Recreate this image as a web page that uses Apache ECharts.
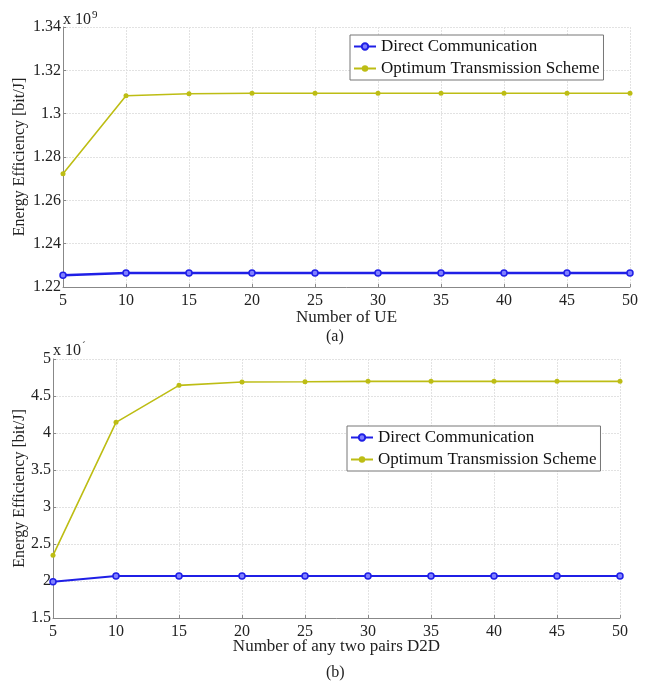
<!DOCTYPE html>
<html>
<head>
<meta charset="utf-8">
<script src="https://cdn.jsdelivr.net/npm/echarts@6/dist/echarts.min.js"></script>
<style>
  html, body { margin: 0; padding: 0; background: #fff; }
  #main { width: 649px; height: 684px; }
</style>
</head>
<body>
<div id="main"></div>
<script>
// x values shared by both panels
var xValues = [5, 10, 15, 20, 25, 30, 35, 40, 45, 50];

// panel (a), values in units of 10^9 bit/J
var directA = [1.2254, 1.2265, 1.2265, 1.2265, 1.2265, 1.2265, 1.2265, 1.2265, 1.2265, 1.2265];
var optimumA = [1.2723, 1.3083, 1.3092, 1.3094, 1.3094, 1.3094, 1.3094, 1.3094, 1.3094, 1.3094];

// panel (b)
var directB = [1.991, 2.068, 2.068, 2.068, 2.068, 2.068, 2.068, 2.068, 2.068, 2.068];
var optimumB = [2.347, 4.144, 4.644, 4.689, 4.693, 4.698, 4.698, 4.698, 4.698, 4.698];

var seriesNames = ['Direct Communication', 'Optimum Transmission Scheme'];

var FONT = '"Liberation Serif", "DejaVu Serif", serif';
var BLUE = '#1f1fe6';
var OLIVE = '#bdbd14';

function pairs(ys) {
    var out = [];
    for (var i = 0; i < xValues.length; i++) {
        out.push([xValues[i], ys[i]]);
    }
    return out;
}

function xAxisFor(gridIndex, name, gap) {
    return {
        type: 'value',
        gridIndex: gridIndex,
        min: 5,
        max: 50,
        interval: 5,
        name: name,
        nameLocation: 'middle',
        nameGap: gap,
        nameMoveOverlap: false,
        nameTextStyle: { fontFamily: FONT, fontSize: 17, color: '#222' },
        axisLine: { lineStyle: { color: '#888' } },
        axisTick: { inside: true, length: 3, lineStyle: { color: '#888' } },
        axisLabel: { fontFamily: FONT, fontSize: 16, color: '#222', margin: 6 },
        splitLine: { show: true, lineStyle: { color: '#e2e2e2', type: [2, 1] } }
    };
}

function yAxisFor(gridIndex, min, max, interval, digits, gap) {
    return {
        type: 'value',
        gridIndex: gridIndex,
        min: min,
        max: max,
        interval: interval,
        name: 'Energy Efficiency [bit/J]',
        nameLocation: 'middle',
        nameGap: gap,
        nameMoveOverlap: false,
        nameTextStyle: { fontFamily: FONT, fontSize: 16, color: '#222' },
        axisLine: { show: true, lineStyle: { color: '#888' } },
        axisTick: { show: true, inside: true, length: 3, lineStyle: { color: '#888' } },
        axisLabel: {
            fontFamily: FONT, fontSize: 16, color: '#222', margin: 2,
            formatter: function (v) { return String(parseFloat(v.toFixed(digits))); }
        },
        splitLine: { show: true, lineStyle: { color: '#e2e2e2', type: [2, 1] } }
    };
}

function directSeries(idx, data, width) {
    return {
        name: seriesNames[0],
        type: 'line',
        xAxisIndex: idx,
        yAxisIndex: idx,
        data: pairs(data),
        symbol: 'circle',
        symbolSize: 6,
        lineStyle: { color: BLUE, width: width },
        itemStyle: { color: '#8080ff', borderColor: BLUE, borderWidth: 1.5 },
        animation: false
    };
}

function optimumSeries(idx, data) {
    return {
        name: seriesNames[1],
        type: 'line',
        xAxisIndex: idx,
        yAxisIndex: idx,
        data: pairs(data),
        symbol: 'circle',
        symbolSize: 5,
        lineStyle: { color: OLIVE, width: 1.6 },
        itemStyle: { color: OLIVE },
        animation: false
    };
}

function legendAt(left, top) {
    return {
        data: seriesNames,
        orient: 'vertical',
        left: left,
        top: top,
        padding: [3, 4, 3, 3],
        itemGap: 5,
        itemWidth: 22,
        itemHeight: 8,
        backgroundColor: '#fff',
        borderColor: '#777',
        borderWidth: 1,
        textStyle: { fontFamily: FONT, fontSize: 17, color: '#111' }
    };
}

var myChart = echarts.init(document.getElementById('main'));

var option = {
    backgroundColor: '#fff',
    animation: false,
    grid: [
        { left: 63, right: 19, top: 27, height: 260 },
        { left: 53, right: 29, top: 359, height: 259 }
    ],
    xAxis: [xAxisFor(0, 'Number of UE', 22), xAxisFor(1, 'Number of any two pairs D2D', 20)],
    yAxis: [yAxisFor(0, 1.22, 1.34, 0.02, 2, 35), yAxisFor(1, 1.5, 5, 0.5, 1, 25)],
    legend: [legendAt(350, 35), legendAt(347, 426)],
    series: [
        directSeries(0, directA, 2.5),
        optimumSeries(0, optimumA),
        directSeries(1, directB, 2),
        optimumSeries(1, optimumB)
    ],
    graphic: [
        {
            type: 'text', left: 63, top: 10,
            style: {
                text: '{b|x 10}{s|9}',
                rich: {
                    b: { fontFamily: FONT, fontSize: 16, fill: '#222' },
                    s: { fontFamily: FONT, fontSize: 11, fill: '#222', padding: [0, 0, 9, 1] }
                }
            }
        },
        {
            type: 'text', left: 53, top: 341,
            style: {
                text: '{b|x 10}{s|´}',
                rich: {
                    b: { fontFamily: FONT, fontSize: 16, fill: '#222' },
                    s: { fontFamily: FONT, fontSize: 11, fill: '#222', padding: [0, 0, 9, 1] }
                }
            }
        },
        {
            type: 'text', left: 326, top: 329,
            style: { text: '(a)', fontFamily: FONT, fontSize: 16, fill: '#222' }
        },
        {
            type: 'text', left: 326, top: 665,
            style: { text: '(b)', fontFamily: FONT, fontSize: 16, fill: '#222' }
        }
    ]
};

myChart.setOption(option);
</script>
</body>
</html>
